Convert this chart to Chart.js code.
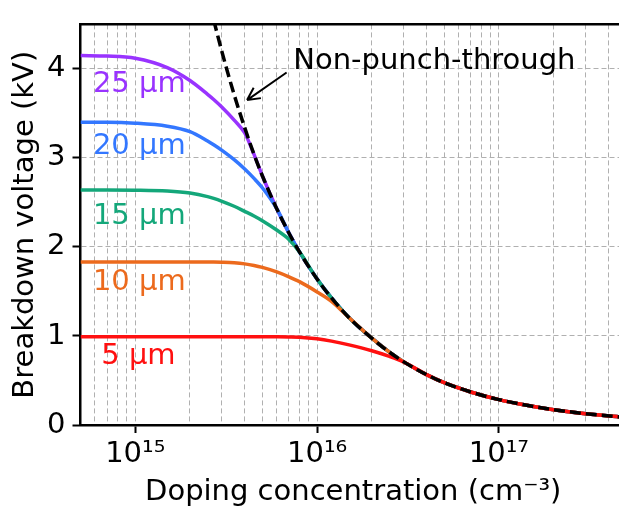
<!DOCTYPE html>
<html>
<head>
<script src="https://cdnjs.cloudflare.com/ajax/libs/Chart.js/4.4.0/chart.umd.min.js"></script>
<style>
  html, body { margin: 0; padding: 0; overflow: hidden; background: #fff; }
</style>
</head>
<body>
<canvas id="canvas" width="640" height="507"></canvas>
<script>
// doping concentration (cm^-3) where the curves are sampled
var doping = [5e14, 7e14, 1e15, 1.5e15, 2e15, 2.5e15, 2.7e15, 3e15, 3.5e15, 4e15, 4.5e15, 5e15, 6e15, 7e15, 8e15,
              1e16, 1.2e16, 1.5e16, 2e16, 2.5e16, 3e16, 4e16, 5e16, 7e16, 1e17, 1.5e17, 2e17, 3e17, 5e17];

// breakdown voltage (kV)
var nonPunchThrough = [null, null, null, null, null, null, 4.55, 4.19, 3.71, 3.34, 3.04, 2.80, 2.43, 2.157, 1.945,
                       1.64, 1.428, 1.205, 0.975, 0.818, 0.709, 0.566, 0.475, 0.371, 0.285, 0.213, 0.172, 0.127, 0.085];
var drift5um  = [0.99, 0.99, 0.99, 0.99, 0.99, 0.99, 0.99, 0.99, 0.99, 0.99, 0.99, 0.99, 0.99, 0.989, 0.986,
                 0.968, 0.942, 0.90, 0.834, 0.77, 0.706, 0.566, 0.475, 0.371, 0.285, 0.213, 0.172, 0.127, 0.085];
var drift10um = [1.83, 1.83, 1.83, 1.83, 1.83, 1.83, 1.83, 1.828, 1.822, 1.81, 1.792, 1.77, 1.72, 1.665, 1.61,
                 1.495, 1.39, 1.205, 0.975, 0.818, 0.709, 0.566, 0.475, 0.371, 0.285, 0.213, 0.172, 0.127, 0.085];
var drift15um = [2.64, 2.64, 2.638, 2.628, 2.605, 2.565, 2.545, 2.512, 2.457, 2.40, 2.348, 2.295, 2.19, 2.085, 1.945,
                 1.64, 1.428, 1.205, 0.975, 0.818, 0.709, 0.566, 0.475, 0.371, 0.285, 0.213, 0.172, 0.127, 0.085];
var drift20um = [3.40, 3.40, 3.39, 3.356, 3.295, 3.19, 3.148, 3.085, 2.98, 2.875, 2.77, 2.665, 2.43, 2.157, 1.945,
                 1.64, 1.428, 1.205, 0.975, 0.818, 0.709, 0.566, 0.475, 0.371, 0.285, 0.213, 0.172, 0.127, 0.085];
var drift25um = [4.15, 4.145, 4.12, 4.015, 3.87, 3.715, 3.657, 3.57, 3.425, 3.28, 3.04, 2.80, 2.43, 2.157, 1.945,
                 1.64, 1.428, 1.205, 0.975, 0.818, 0.709, 0.566, 0.475, 0.371, 0.285, 0.213, 0.172, 0.127, 0.085];

// in-plot labels, placed in data coordinates
var curveLabels = ['25 µm', '20 µm', '15 µm', '10 µm', '5 µm'];
var curveLabelN = [5.85e14, 5.85e14, 5.85e14, 5.85e14, 6.5e14];
var curveLabelV = [3.83, 3.13, 2.34, 1.60, 0.77];
var curveColours = ['#9933ff', '#3377ff', '#14a77a', '#ec6a1d', '#ff1010'];

var nptText = 'Non-punch-through';
var nptTextAt = [7.4e15, 4.08];
var arrowFrom = [6.8e15, 3.96];
var arrowTo = [4.12e15, 3.65];

var yTicks = [0, 1, 2, 3, 4];
var xMajor = [1e15, 1e16, 1e17];
var xTicks = [];
for (var e = 14; e <= 17; e++) {
  for (var m = 1; m <= 9; m++) {
    var v = Number(m + 'e' + e);
    if (v >= 5e14 && v <= 5e17) xTicks.push(v);
  }
}

var sup = {'0': '⁰', '1': '¹', '2': '²', '3': '³', '4': '⁴', '5': '⁵', '6': '⁶', '7': '⁷', '8': '⁸', '9': '⁹'};
function powerLabel(v) {
  var ex = String(Math.round(Math.log10(v)));
  return '10' + ex.split('').map(c => sup[c]).join('');
}
var isMajor = (v) => xMajor.indexOf(v) >= 0;

function points(arr) {
  return doping.map((n, i) => ({x: n, y: arr[i]}));
}

function lineSet(label, arr, colour) {
  return {
    label: label,
    data: points(arr),
    borderColor: colour,
    borderWidth: 3.5,
    pointRadius: 0,
    fill: false,
    cubicInterpolationMode: 'monotone'
  };
}

var labelPlugin = {
  id: 'curveLabels',
  afterDatasetsDraw: function(chart) {
    var ctx = chart.ctx, xs = chart.scales.x, ys = chart.scales.y;
    ctx.save();
    ctx.font = '29px "DejaVu Sans"';
    ctx.textAlign = 'left';
    ctx.textBaseline = 'middle';
    curveLabels.forEach(function(t, i) {
      ctx.fillStyle = curveColours[i];
      ctx.fillText(t, xs.getPixelForValue(curveLabelN[i]), ys.getPixelForValue(curveLabelV[i]));
    });
    ctx.fillStyle = '#000';
    ctx.fillText(nptText, xs.getPixelForValue(nptTextAt[0]), ys.getPixelForValue(nptTextAt[1]));

    // arrow pointing at the non-punch-through curve
    var x1 = xs.getPixelForValue(arrowFrom[0]), y1 = ys.getPixelForValue(arrowFrom[1]);
    var x2 = xs.getPixelForValue(arrowTo[0]), y2 = ys.getPixelForValue(arrowTo[1]);
    var a = Math.atan2(y1 - y2, x1 - x2);
    ctx.strokeStyle = '#000';
    ctx.lineWidth = 2;
    ctx.beginPath();
    ctx.moveTo(x1, y1);
    ctx.lineTo(x2, y2);
    [-0.47, 0.47].forEach(function(d) {
      ctx.moveTo(x2, y2);
      ctx.lineTo(x2 + 14 * Math.cos(a + d), y2 + 14 * Math.sin(a + d));
    });
    ctx.stroke();
    ctx.restore();
  }
};

Chart.defaults.font.family = '"DejaVu Sans"';
Chart.defaults.font.size = 29;
Chart.defaults.color = '#000';

var ctx = document.getElementById('canvas').getContext('2d');
var chart = new Chart(ctx, {
  type: 'line',
  data: {
    datasets: [
      Object.assign(lineSet('Non-punch-through', nonPunchThrough, '#000'), {borderDash: [11, 5], spanGaps: true}),
      lineSet('5 µm', drift5um, curveColours[4]),
      lineSet('10 µm', drift10um, curveColours[3]),
      lineSet('15 µm', drift15um, curveColours[2]),
      lineSet('20 µm', drift20um, curveColours[1]),
      lineSet('25 µm', drift25um, curveColours[0])
    ]
  },
  options: {
    responsive: false,
    animation: false,
    layout: { padding: { top: 15.5, right: 14, left: 0, bottom: 0 } },
    plugins: { legend: { display: false }, tooltip: { enabled: false } },
    scales: {
      x: {
        type: 'logarithmic',
        position: 'bottom',
        min: 5e14,
        max: 5e17,
        afterBuildTicks: function(s) { s.ticks = xTicks.map(v => ({value: v, major: isMajor(v)})); },
        afterFit: function(s) { s.height = 82; },
        ticks: {
          autoSkip: false,
          maxRotation: 0,
          padding: 4,
          callback: function(v) { return isMajor(v) ? powerLabel(v) : ''; }
        },
        grid: {
          color: '#b0b0b0',
          lineWidth: 1,
          tickLength: 8,
          tickWidth: 2,
          tickBorderDash: [],
          tickColor: function(c) { return c.tick && isMajor(c.tick.value) ? '#000' : 'rgba(0,0,0,0)'; }
        },
        border: { display: true, color: '#000', width: 2.5, dash: [5, 3] },
        title: {
          display: true,
          text: 'Doping concentration (cm⁻³)',
          font: { size: 29, lineHeight: 1 },
          padding: { top: 0, bottom: 0 }
        }
      },
      xTop: {
        type: 'linear',
        position: 'top',
        afterFit: function(s) { s.height = 0; },
        ticks: { display: false },
        grid: { display: false },
        border: { display: true, color: '#000', width: 2.5 }
      },
      y: {
        type: 'linear',
        min: 0,
        max: 4.5,
        afterBuildTicks: function(s) { s.ticks = yTicks.map(v => ({value: v})); },
        afterFit: function(s) { s.width = 80.5; },
        ticks: { padding: 7 },
        grid: {
          color: '#b0b0b0',
          lineWidth: 1,
          tickLength: 8,
          tickWidth: 2,
          tickBorderDash: [],
          tickColor: '#000'
        },
        border: { display: true, color: '#000', width: 2.5, dash: [5, 3] },
        title: {
          display: true,
          text: 'Breakdown voltage (kV)',
          font: { size: 29, lineHeight: 1 },
          padding: { top: 11, bottom: 0 }
        }
      }
    }
  },
  plugins: [labelPlugin]
});
</script>
</body>
</html>
